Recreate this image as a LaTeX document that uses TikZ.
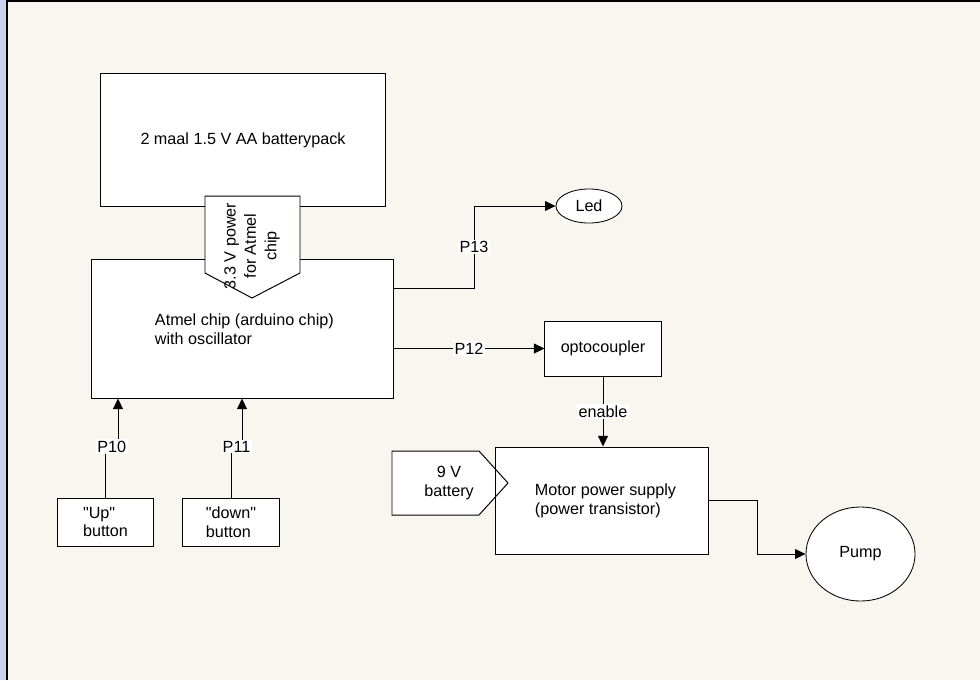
\documentclass[tikz,border=0pt]{standalone}
\usepackage{fontspec}
\setmainfont{Liberation Sans}
\usetikzlibrary{%
    arrows.meta,%
    shapes.geometric,calc
}
\definecolor{canvas}{RGB}{249,246,239}
\definecolor{sidebar}{RGB}{199,212,238}

\begin{document}
\begin{tikzpicture}[x=0.025cm,y=-0.025cm,
 font=\fontsize{11.5}{13.5}\selectfont,
 >={Triangle[length=7.5pt,width=7pt]},
 block/.style={draw,fill=white,line width=0.7pt,inner sep=0pt},
 blob/.style={draw,fill=white,ellipse,line width=0.6pt,inner sep=0pt},
 lbl/.style={fill=white,inner sep=1pt},
 wire/.style={line width=0.7pt}]

\useasboundingbox (0,0) rectangle (980,680);
\fill[canvas] (0,0) rectangle (980,680);
\fill[sidebar] (0,0) rectangle (7,680);
\draw[line width=1.4pt] (7,680) -- (7,1) -- (980,1);

\node[block,minimum width=7.1cm,minimum height=3.3cm] (pack) at (243,140) {2 maal 1.5 V AA batterypack};
\node[block,minimum width=7.525cm,minimum height=3.45cm] (chip) at (242.5,329) {};
\node[align=left,anchor=west] (chiptext) at (150,329) {Atmel chip (arduino chip)\\with oscillator};

\draw[block] (205,196) -- (300,196) -- (300,273) -- (252,298) -- (205,273) -- cycle;
\node[rotate=90,align=center,font=\fontsize{11.5}{14.5}\selectfont] (powertext) at (252,246) {3.3 V power\\for Atmel\\chip};

\node[blob,minimum width=1.65cm,minimum height=0.85cm] (led) at (589,206) {Led};
\node[block,minimum width=2.9cm,minimum height=1.375cm] (opto) at (603,348.5) {optocoupler};
\node[block,minimum width=5.3cm,minimum height=2.675cm] (motor) at (602,500.5) {};
\node[align=left,anchor=west] (motortext) at (530,501) {Motor power supply\\(power transistor)};

\draw[block] (392,451) -- (479,451) -- (508,483) -- (479,515) -- (392,515) -- cycle;
\draw[wire] (motor.north west) -- (motor.south west);
\node[align=center] (batttext) at (449,483) {9 V\\battery};

\node[blob,minimum width=2.725cm,minimum height=2.35cm] (pump) at (860.5,554) {Pump};
\node[block,align=left,minimum width=2.375cm,minimum height=1.2cm] (up) at (105.5,522) {\textquotedbl Up\textquotedbl\\button};
\node[block,align=left,minimum width=2.4cm,minimum height=1.2cm] (down) at (231,522) {\textquotedbl down\textquotedbl\\button};

\coordinate (p13out) at (chip.east |- 0,288);
\coordinate (bend13) at (474,206);
\draw[wire,->] (p13out) -| node[lbl,pos=0.75]{P13} (bend13) -- (led);
\draw[wire,->] (chip.east |- opto.west) -- node[lbl]{P12} (opto.west);
\draw[wire,->] (opto.south) -- node[lbl]{enable} (opto.south |- motor.north);

\coordinate (in10) at (chip.south -| 118,0);
\coordinate (in11) at (chip.south -| 242,0);
\draw[wire,->] (up.north) -- +(0,-51) -| node[lbl,pos=0.25]{P10} (in10);
\draw[wire,->] (down.north) -- +(0,-51) -| node[lbl,pos=0.25]{P11} (in11);

\draw[wire,->] (motor.east) -| ($(motor.east)!.5!(pump.west)$) |- (pump.west);
\end{tikzpicture}
\end{document}
